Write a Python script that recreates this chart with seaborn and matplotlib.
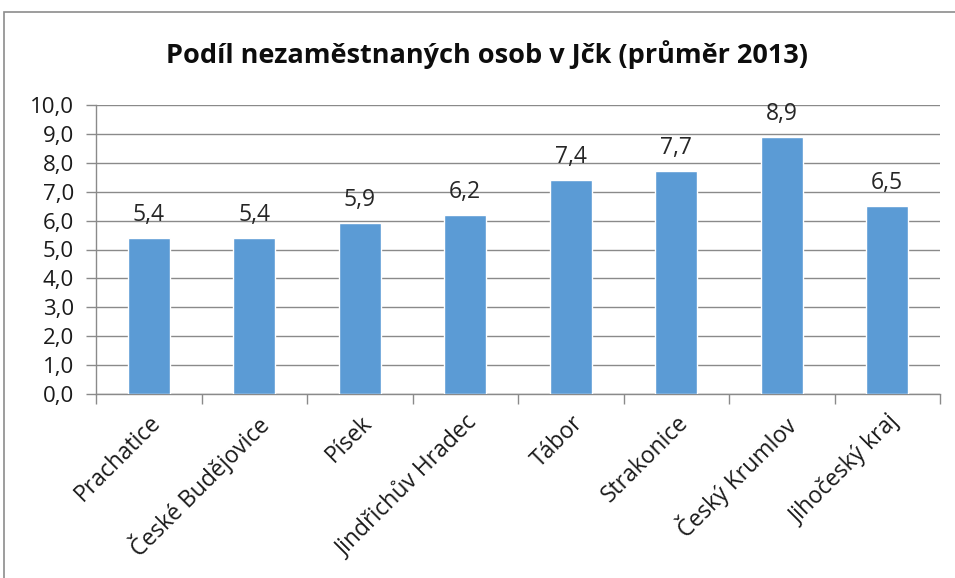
import matplotlib
matplotlib.use("Agg")
import matplotlib.pyplot as plt
from matplotlib.patches import Rectangle
from matplotlib.ticker import FixedLocator, FuncFormatter
import seaborn as sns
import pandas as pd

districts = ["Prachatice", "České Budějovice", "Písek", "Jindřichův Hradec",
             "Tábor", "Strakonice", "Český Krumlov", "Jihočeský kraj"]
share = [5.4, 5.4, 5.9, 6.2, 7.4, 7.7, 8.9, 6.5]
y_ticks = [0, 1, 2, 3, 4, 5, 6, 7, 8, 9, 10]
title = "Podíl nezaměstnaných osob v Jčk (průměr 2013)"

sns.set_theme(style="white")
plt.rcParams["font.family"] = ["Open Sans", "DejaVu Sans"]

df = pd.DataFrame({"okres": districts, "podil": share})

fig = plt.figure(figsize=(9.55, 5.78), dpi=100)
fig.patch.set_facecolor("white")

# chart frame
fig.add_artist(Rectangle((4 / 955, -0.05), 1.0, 1 - 12 / 578 + 0.05,
                         transform=fig.transFigure, fill=False,
                         edgecolor="#8c8c8c", linewidth=1.2))

ax = fig.add_axes([96 / 955, 1 - 394 / 578, (940 - 96) / 955, (394 - 105) / 578])
sns.barplot(data=df, x="okres", y="podil", color="#5B9BD5", width=0.4,
            saturation=1, ax=ax, zorder=3)

ax.set_xlim(-0.5, len(districts) - 0.5)
ax.set_ylim(0, 10)
ax.set_xlabel("")
ax.set_ylabel("")

# horizontal gridlines
ax.yaxis.set_major_locator(FixedLocator(y_ticks))
ax.yaxis.set_major_formatter(FuncFormatter(lambda v, p: f"{v:.1f}".replace(".", ",")))
ax.grid(axis="y", color="#8a8a8a", linewidth=1.0, zorder=0)
ax.set_axisbelow(True)

for side in ["top", "right"]:
    ax.spines[side].set_visible(False)
ax.spines["left"].set_color("#8a8a8a")
ax.spines["bottom"].set_color("#8a8a8a")
ax.spines["left"].set_linewidth(1.0)
ax.spines["bottom"].set_linewidth(1.0)

# category labels at bar centres, tick marks on category boundaries
n = len(districts)
ax.xaxis.set_major_locator(FixedLocator([i - 0.5 for i in range(n + 1)]))
ax.xaxis.set_minor_locator(FixedLocator(list(range(n))))
ax.set_xticklabels([""] * (n + 1))
ax.set_xticklabels(districts, minor=True, rotation=45, ha="right",
                   rotation_mode="anchor", fontsize=16.5, color="#1a1a1a")
ax.tick_params(axis="x", which="major", length=7, color="#8a8a8a", width=1.0,
               direction="out", bottom=True)
ax.tick_params(axis="x", which="minor", length=0, pad=12)
ax.tick_params(axis="y", length=7, color="#8a8a8a", width=1.0, direction="out",
               left=True, labelsize=16, labelcolor="#1a1a1a", pad=9)

# value labels above bars
for i, v in enumerate(share):
    ax.annotate(f"{v:.1f}".replace(".", ","), (i, v), xytext=(0, 8),
                textcoords="offset points", ha="center", va="bottom",
                fontsize=16.5, color="#262626")

fig.text(487 / 955, 1 - 55 / 578, title, ha="center", va="center",
         fontsize=19.5, fontweight="bold", color="#0d0d0d")

fig.savefig("out.png", dpi=100, facecolor="white")
